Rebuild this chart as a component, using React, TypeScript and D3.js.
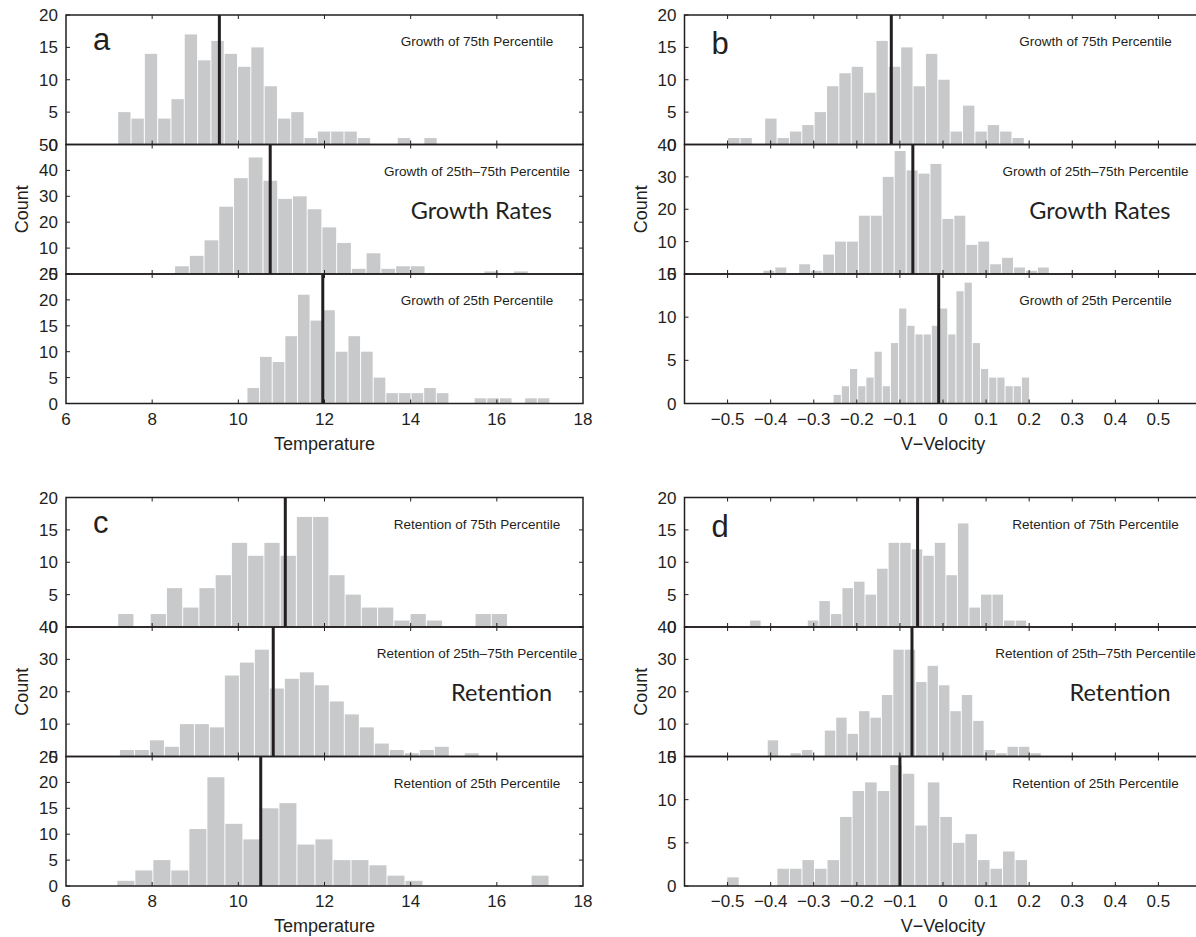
import React from "react";
import { scaleLinear, range, format } from "d3";

// x axes
const tempDomain = [6, 18];
const tempTicks = [6, 8, 10, 12, 14, 16, 18];
const velDomain = [-0.6, 0.6];
const velTicks = [-0.5, -0.4, -0.3, -0.2, -0.1, 0, 0.1, 0.2, 0.3, 0.4, 0.5];

// bin counts (24 bins per histogram)
const tempGrowth75 = [5, 4, 14, 4, 7, 17, 13, 16, 14, 12, 15, 9, 4, 5, 1, 2, 2, 2, 1, 0, 0, 1, 0, 1];
const tempGrowthMid = [3, 7, 13, 26, 37, 45, 36, 29, 30, 25, 18, 12, 2, 8, 2, 3, 3, 0, 0, 0, 0, 1, 0, 1];
const tempGrowth25 = [3, 9, 8, 13, 21, 16, 18, 10, 13, 10, 5, 2, 2, 2, 3, 2, 0, 0, 1, 1, 1, 0, 1, 1];

const velGrowth75 = [1, 1, 0, 4, 1, 2, 3, 5, 9, 11, 12, 8, 16, 12, 15, 9, 14, 10, 2, 6, 2, 3, 2, 1];
const velGrowthMid = [1, 2, 0, 3, 1, 6, 10, 10, 18, 18, 30, 38, 32, 31, 34, 17, 18, 9, 10, 3, 5, 2, 1, 2];
const velGrowth25 = [1, 2, 4, 2, 3, 6, 2, 7, 11, 9, 8, 8, 9, 11, 8, 13, 14, 7, 4, 3, 3, 2, 2, 3];

const tempRet75 = [2, 0, 2, 6, 3, 6, 8, 13, 11, 13, 11, 17, 17, 8, 5, 3, 3, 1, 2, 1, 0, 0, 2, 2];
const tempRetMid = [2, 2, 5, 3, 10, 10, 9, 25, 29, 33, 21, 24, 26, 22, 17, 13, 9, 4, 2, 1, 2, 3, 0, 1];
const tempRet25 = [1, 3, 5, 3, 11, 21, 12, 9, 15, 16, 8, 9, 5, 5, 4, 2, 1, 0, 0, 0, 0, 0, 0, 2];

const velRet75 = [1, 0, 0, 0, 0, 1, 4, 2, 6, 7, 5, 9, 13, 13, 12, 11, 13, 8, 16, 3, 5, 5, 1, 1];
const velRetMid = [5, 0, 1, 2, 0, 8, 12, 7, 14, 12, 19, 33, 33, 23, 28, 22, 14, 19, 11, 2, 1, 3, 3, 1];
const velRet25 = [1, 0, 0, 0, 2, 2, 3, 2, 3, 8, 11, 12, 11, 14, 13, 7, 12, 8, 5, 6, 3, 2, 4, 3];

// first bin edge and bin width of each histogram (top, middle, bottom)
const tempGrowthBins = [[7.2, 0.309], [8.52, 0.342], [10.2, 0.293]];
const velGrowthBins = [[-0.5, 0.0287], [-0.418, 0.0277], [-0.255, 0.019]];
const tempRetBins = [[7.2, 0.377], [7.24, 0.348], [7.18, 0.418]];
const velRetBins = [[-0.449, 0.0268], [-0.408, 0.0265], [-0.502, 0.0291]];

// thick vertical lines
const tempGrowthMeans = [9.56, 10.74, 11.96];
const velGrowthMeans = [-0.12, -0.07, -0.01];
const tempRetMeans = [11.09, 10.81, 10.52];
const velRetMeans = [-0.059, -0.072, -0.1];

// y axes of the three stacked histograms
const growthYMax = [20, 50, 25];
const velGrowthYMax = [20, 40, 15];
const retYMax = [20, 40, 25];
const velRetYMax = [20, 40, 15];
const yStep = [5, 10, 5];

const growthTitles = ["Growth of 75th Percentile", "Growth of 25th\u201375th Percentile", "Growth of 25th Percentile"];
const retTitles = ["Retention of 75th Percentile", "Retention of 25th\u201375th Percentile", "Retention of 25th Percentile"];

const ink = "#231f20";
const barFill = "#c8c9ca";
const sans = "'Liberation Sans', Arial, sans-serif";
const fmt = format("");

const panels = [
  { letter: "a", col: 0, row: 0, kind: "temp", counts: [tempGrowth75, tempGrowthMid, tempGrowth25], bins: tempGrowthBins, means: tempGrowthMeans, yMax: growthYMax, titles: growthTitles, big: "Growth Rates" },
  { letter: "b", col: 1, row: 0, kind: "vel", counts: [velGrowth75, velGrowthMid, velGrowth25], bins: velGrowthBins, means: velGrowthMeans, yMax: velGrowthYMax, titles: growthTitles, big: "Growth Rates" },
  { letter: "c", col: 0, row: 1, kind: "temp", counts: [tempRet75, tempRetMid, tempRet25], bins: tempRetBins, means: tempRetMeans, yMax: retYMax, titles: retTitles, big: "Retention" },
  { letter: "d", col: 1, row: 1, kind: "vel", counts: [velRet75, velRetMid, velRet25], bins: velRetBins, means: velRetMeans, yMax: velRetYMax, titles: retTitles, big: "Retention" }
];

const rowTops = [15, 497.5];
const colLefts = [66, 684.5];
const plotW = 517;
const subH = 129.5;

function Histogram({ x, ticks, top, counts, bins, mean, yMax, step, title }) {
  const y = scaleLinear().domain([0, yMax]).range([top + subH, top]);
  const [x0, x1] = x.range();
  const [start, width] = bins;
  const yTicks = range(0, yMax + 0.001, step);
  const inner = ticks.filter(t => x(t) > x0 + 1 && x(t) < x1 - 1);
  return (
    <g>
      {counts.map((c, i) => {
        if (!c) return null;
        const a = x(start + i * width);
        const b = x(start + (i + 1) * width);
        return (
          <rect key={i} x={a + 0.5} width={b - a - 1} y={y(c)} height={y(0) - y(c)} fill={barFill} />
        );
      })}
      <line x1={x(mean)} x2={x(mean)} y1={top} y2={top + subH} stroke={ink} strokeWidth={3} />
      <rect x={x0} y={top} width={x1 - x0} height={subH} fill="none" stroke={ink} strokeWidth={1.5} />
      {inner.map(t => (
        <g key={t} stroke={ink} strokeWidth={1}>
          <line x1={x(t)} x2={x(t)} y1={top} y2={top + 4} />
          <line x1={x(t)} x2={x(t)} y1={top + subH} y2={top + subH - 4} />
        </g>
      ))}
      {yTicks.map(t => (
        <g key={t}>
          <line x1={x0} x2={x0 + 4} y1={y(t)} y2={y(t)} stroke={ink} />
          <line x1={x1} x2={x1 - 4} y1={y(t)} y2={y(t)} stroke={ink} />
          <text x={x0 - 8} y={y(t) + 6} textAnchor="end" fontSize={17} fill={ink}>{t}</text>
        </g>
      ))}
      <text x={x1 - 106} y={top + 31} textAnchor="middle" fontSize={13.5} fill={ink}>{title}</text>
    </g>
  );
}

function Panel({ p }) {
  const left = colLefts[p.col];
  const top = rowTops[p.row];
  const isTemp = p.kind === "temp";
  const x = scaleLinear().domain(isTemp ? tempDomain : velDomain).range([left, left + plotW]);
  const ticks = isTemp ? tempTicks : velTicks;
  const bottom = top + 3 * subH;
  return (
    <g fontFamily={sans}>
      {[0, 1, 2].map(k => (
        <Histogram
          key={k}
          x={x}
          ticks={ticks}
          top={top + k * subH}
          counts={p.counts[k]}
          bins={p.bins[k]}
          mean={p.means[k]}
          yMax={p.yMax[k]}
          step={yStep[k]}
          title={p.titles[k]}
        />
      ))}
      {ticks.map(t => (
        <text key={t} x={x(t)} y={bottom + 21} textAnchor="middle" fontSize={17} fill={ink}>{fmt(t)}</text>
      ))}
      <text x={left + plotW / 2} y={bottom + 46} textAnchor="middle" fontSize={18} fill={ink}>
        {isTemp ? "Temperature" : "V\u2212Velocity"}
      </text>
      <text
        transform={`translate(${left - 38},${top + 1.5 * subH}) rotate(-90)`}
        textAnchor="middle"
        fontSize={18}
        fill={ink}
      >
        Count
      </text>
      <text x={left + 27} y={top + (p.col === 0 ? 35 : 39)} fontSize={31} fill={ink}>{p.letter}</text>
      <text x={left + plotW - 31} y={top + subH + 74} textAnchor="end" fontSize={23.5} fontFamily="Lato, 'Open Sans', sans-serif" fill={ink}>
        {p.big}
      </text>
    </g>
  );
}

export default function App() {
  const width = 1196,
    height = 937;
  return (
    <svg
      width={width}
      height={height}
      style={{ position: "absolute", left: 0, top: 0, display: "block", background: "#fff" }}
    >
      {panels.map(p => (
        <Panel key={p.letter} p={p} />
      ))}
    </svg>
  );
}
